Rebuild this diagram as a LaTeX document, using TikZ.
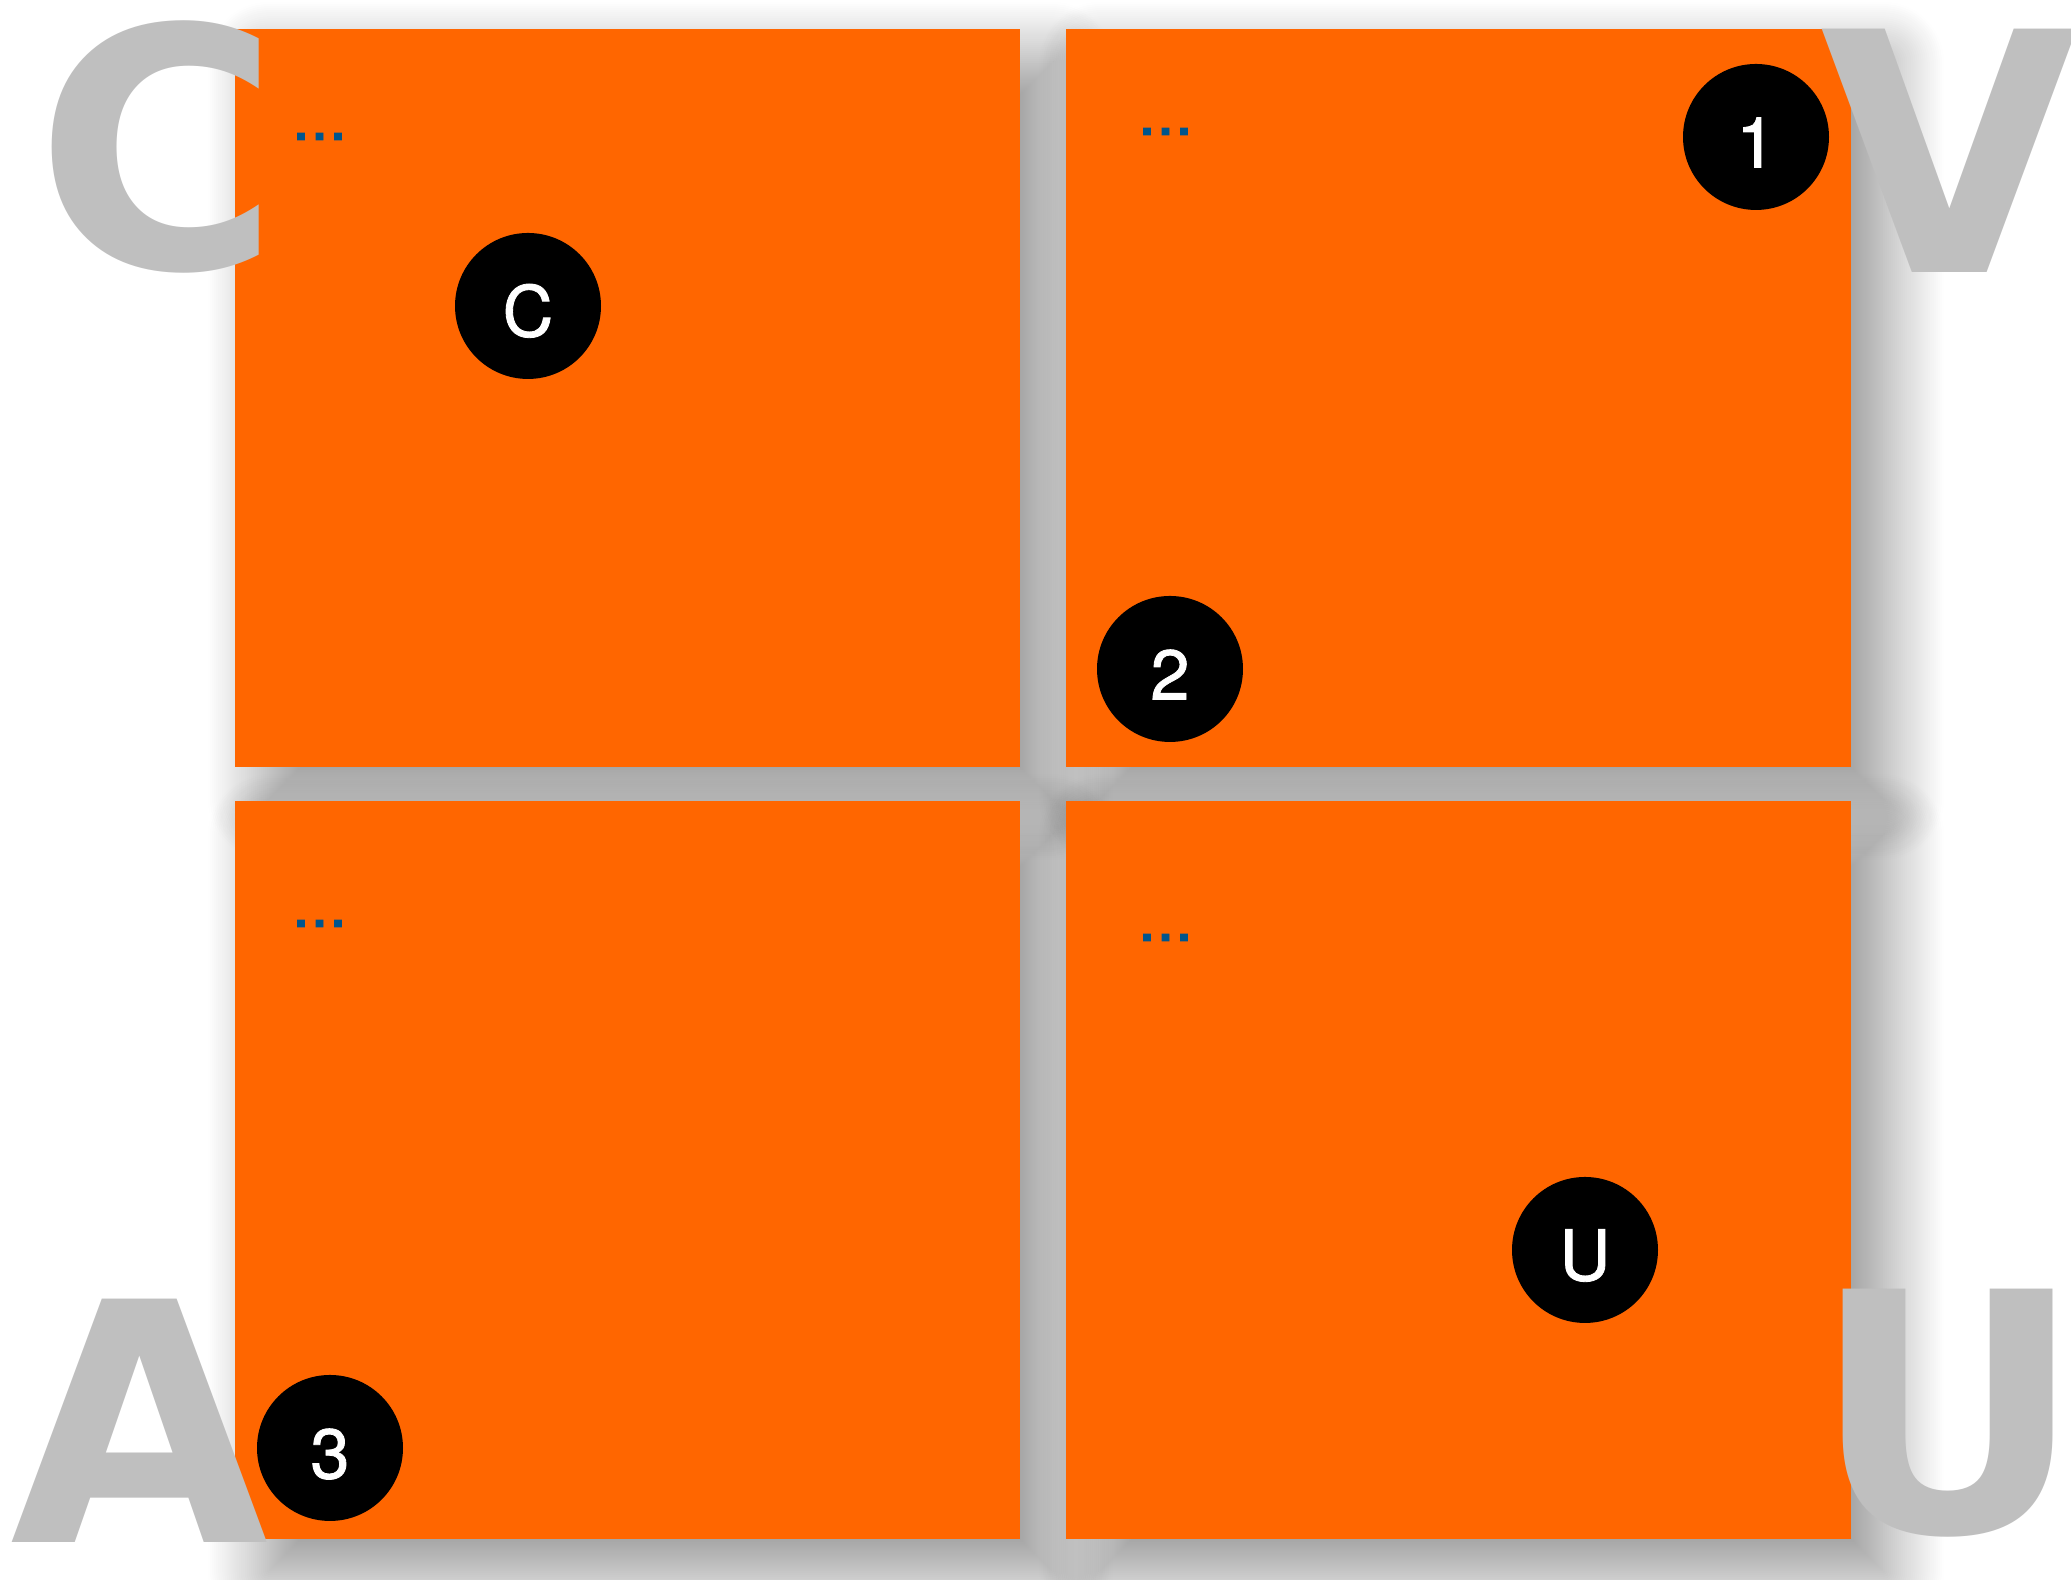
\documentclass[tikz,border=0pt]{standalone}
\usepackage{fontspec}
\setmainfont{TeX Gyre Heros}
\newfontfamily\letterfont{DejaVu Sans}
\newfontfamily\badgefont[FakeBold=1.2]{TeX Gyre Heros}
\usetikzlibrary{shadows.blur}
\definecolor{panelorange}{HTML}{FF6600}
\definecolor{lettergray}{HTML}{BFBFBF}
\definecolor{dotblue}{HTML}{00558C}

\begin{document}
\begin{tikzpicture}[
    panel/.style={anchor=south west,fill=panelorange,inner sep=0pt,outer sep=0pt,
      minimum width=7.85cm,minimum height=7.38cm,
      blur shadow={shadow xshift=3.3mm,shadow yshift=-3.3mm,shadow blur radius=6mm,shadow opacity=45,shadow blur steps=30}},
    badge/.style={circle,fill=black,text=white,inner sep=0pt,minimum size=1.46cm,
      font=\badgefont\fontsize{20}{20}\selectfont,text height=6.1mm,text depth=0pt},
    dots/.style={anchor=base west,inner sep=0pt,text=dotblue,font=\badgefont\fontsize{19}{19}\selectfont},
    bigletter/.style={anchor=base,inner sep=0pt,text=lettergray,font=\letterfont\bfseries\fontsize{95}{95}\selectfont}]
    \useasboundingbox (0,0) rectangle (20.71,15.80);
    % the four panels
    \node [panel] (PC) at (2.35,8.13) {};
    \node [panel] (PV) at (10.66,8.13) {};
    \node [panel] (PA) at (2.35,0.41) {};
    \node [panel] (PU) at (10.66,0.41) {};
    % placeholder text
    \node [dots] (DC) at (2.91,14.40) {...};
    \node [dots] (DV) at (11.37,14.45) {...};
    \node [dots] (DA) at (2.91,6.53) {...};
    \node [dots] (DU) at (11.37,6.39) {...};
    % corner letters
    \node [bigletter] (LC) at (1.585,13.115) {C};
    \node [bigletter] (LV) at (19.50,13.07) {V};
    \node [bigletter] (LA) at (1.40,0.374) {A};
    \node [bigletter] (LU) at (19.48,0.47) {U};
    % markers
    \node [badge] (BC) at (5.28,12.74) {C};
    \node [badge] (B1) at (17.56,14.43) {1};
    \node [badge] (B2) at (11.70,9.11) {2};
    \node [badge] (BU) at (15.85,3.30) {U};
    \node [badge] (B3) at (3.30,1.32) {3};
\end{tikzpicture}
\end{document}
